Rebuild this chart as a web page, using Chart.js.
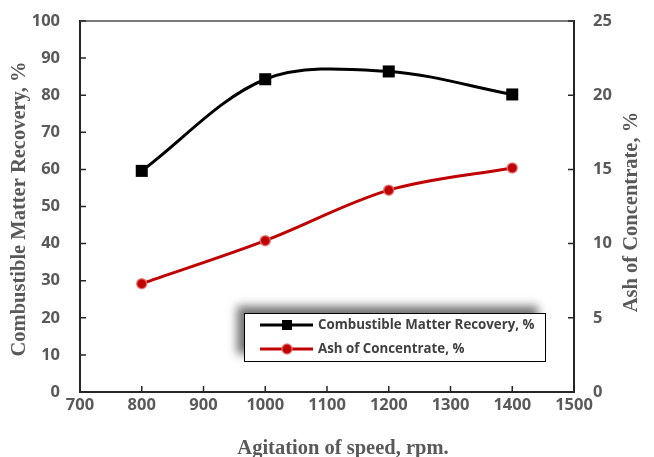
<!DOCTYPE html>
<html>
<head>
<meta charset="utf-8">
<script src="https://cdn.jsdelivr.net/npm/chart.js@4.4.1/dist/chart.umd.min.js"></script>
<style>
  html, body { margin: 0; padding: 0; background: #fff; }
  #wrap { width: 654px; height: 457px; }
</style>
</head>
<body>
<div id="wrap"><canvas id="grafica" width="654" height="457"></canvas></div>
<script>
// datos
const velocidades = [800, 1000, 1200, 1400];          // rpm
const recuperacion = [59.6, 84.3, 86.4, 80.2];         // Combustible Matter Recovery, %
const cenizas = [7.3, 10.2, 13.6, 15.1];               // Ash of Concentrate, %

const etiquetas = ['Combustible Matter Recovery, %', 'Ash of Concentrate, %'];
const tituloX = 'Agitation of speed, rpm.';
const tituloY = 'Combustible Matter Recovery, %';
const tituloY2 = 'Ash of Concentrate, %';

const GRIS = '#595959';
const fuenteTicks = { family: '"Open Sans", sans-serif', size: 16.5, weight: 'bold' };

function puntos(xs, ys) {
  return xs.map((x, i) => ({ x: x, y: ys[i] }));
}

// ajusta el ancho del eje vertical y quita el relleno extra de las etiquetas
function ajustarEjeY(s) {
  s.width = 80;
  s.paddingTop = 0;
  s.paddingBottom = 0;
}

// ticks hacia dentro, borde superior, titulos y leyenda
const extras = {
  id: 'extras',
  afterDraw(chart) {
    const ctx = chart.ctx;
    const a = chart.chartArea;
    const sx = chart.scales.x, sy = chart.scales.y, sy2 = chart.scales.y2;
    ctx.save();

    // borde superior
    ctx.strokeStyle = '#7a7a7a';
    ctx.lineWidth = 2;
    ctx.beginPath();
    ctx.moveTo(a.left, a.top);
    ctx.lineTo(a.right, a.top);
    ctx.stroke();

    // marcas de ticks
    ctx.strokeStyle = '#262626';
    ctx.lineWidth = 1.5;
    ctx.beginPath();
    sx.ticks.forEach((t, i) => {
      const px = sx.getPixelForTick(i);
      ctx.moveTo(px, a.bottom); ctx.lineTo(px, a.bottom - 6);
    });
    sy.ticks.forEach((t, i) => {
      const py = sy.getPixelForTick(i);
      ctx.moveTo(a.left, py); ctx.lineTo(a.left + 6, py);
    });
    sy2.ticks.forEach((t, i) => {
      const py = sy2.getPixelForTick(i);
      ctx.moveTo(a.right, py); ctx.lineTo(a.right - 6, py);
    });
    ctx.stroke();

    // titulos de ejes
    ctx.fillStyle = GRIS;
    ctx.font = 'bold 20.5px "Liberation Serif", serif';
    ctx.textAlign = 'center';
    ctx.textBaseline = 'middle';
    ctx.fillText(tituloX, 343, 449);
    ctx.save();
    ctx.translate(20, 209);
    ctx.rotate(-Math.PI / 2);
    ctx.fillText(tituloY, 0, 0);
    ctx.restore();
    ctx.save();
    ctx.translate(632, 212);
    ctx.rotate(-Math.PI / 2);
    ctx.fillText(tituloY2, 0, 0);
    ctx.restore();

    // leyenda con sombra
    const L = 244, T = 313, R = 545, B = 361;
    ctx.save();
    ctx.shadowColor = 'rgba(0,0,0,0.55)';
    ctx.shadowBlur = 9;
    ctx.shadowOffsetX = -7;
    ctx.shadowOffsetY = -7;
    ctx.fillStyle = '#fff';
    ctx.fillRect(L, T, R - L, B - T);
    ctx.restore();
    ctx.strokeStyle = '#000';
    ctx.lineWidth = 1;
    ctx.strokeRect(L + 0.5, T + 0.5, R - L, B - T);

    const filas = [325, 349];
    chart.data.datasets.forEach((ds, i) => {
      const yy = filas[i];
      ctx.strokeStyle = ds.borderColor;
      ctx.lineWidth = 3;
      ctx.beginPath();
      ctx.moveTo(260, yy); ctx.lineTo(313, yy);
      ctx.stroke();
      ctx.fillStyle = ds.pointBackgroundColor;
      if (ds.pointStyle === 'rect') {
        ctx.fillRect(282, yy - 5, 10, 10);
      } else {
        ctx.beginPath();
        ctx.arc(287, yy, 5, 0, Math.PI * 2);
        ctx.fill();
        ctx.strokeStyle = ds.pointBorderColor;
        ctx.lineWidth = 1.5;
        ctx.stroke();
      }
      ctx.fillStyle = '#404040';
      ctx.font = 'bold 13.3px "Open Sans", sans-serif';
      ctx.textAlign = 'left';
      ctx.textBaseline = 'middle';
      ctx.fillText(ds.label, 318, yy);
    });
    ctx.restore();
  }
};

const ctx = document.getElementById('grafica').getContext('2d');
const chart = new Chart(ctx, {
  type: 'line',
  data: {
    datasets: [
      {
        label: etiquetas[0],
        data: puntos(velocidades, recuperacion),
        yAxisID: 'y',
        borderColor: '#000',
        borderWidth: 3,
        tension: 0.33,
        pointStyle: 'rect',
        pointRadius: 8.5,
        pointBackgroundColor: '#000',
        pointBorderColor: '#000',
        pointBorderWidth: 0
      },
      {
        label: etiquetas[1],
        data: puntos(velocidades, cenizas),
        yAxisID: 'y2',
        borderColor: '#c00000',
        borderWidth: 3,
        tension: 0.33,
        pointStyle: 'circle',
        pointRadius: 5,
        pointBackgroundColor: '#c00000',
        pointBorderColor: 'rgba(225,110,110,0.85)',
        pointBorderWidth: 1.5
      }
    ]
  },
  options: {
    responsive: false,
    animation: false,
    layout: { padding: { top: 21, left: 0, right: 0, bottom: 0 } },
    plugins: {
      legend: { display: false },
      tooltip: { enabled: false }
    },
    scales: {
      x: {
        type: 'linear',
        min: 700, max: 1500,
        grid: { drawOnChartArea: false, drawTicks: false },
        border: { display: true, color: '#262626', width: 2 },
        ticks: { stepSize: 100, color: GRIS, font: fuenteTicks, padding: 3, maxRotation: 0,
                 callback: (v) => String(v) },
        afterFit: (s) => { s.height = 65; }
      },
      y: {
        position: 'left',
        min: 0, max: 100,
        grid: { drawOnChartArea: false, drawTicks: false },
        border: { display: true, color: '#262626', width: 2 },
        ticks: { stepSize: 10, color: GRIS, font: fuenteTicks, padding: 20 },
        afterFit: ajustarEjeY
      },
      y2: {
        position: 'right',
        min: 0, max: 25,
        grid: { drawOnChartArea: false, drawTicks: false },
        border: { display: true, color: '#262626', width: 2 },
        ticks: { stepSize: 5, color: GRIS, font: fuenteTicks, padding: 19 },
        afterFit: ajustarEjeY
      }
    }
  },
  plugins: [extras]
});
</script>
</body>
</html>
